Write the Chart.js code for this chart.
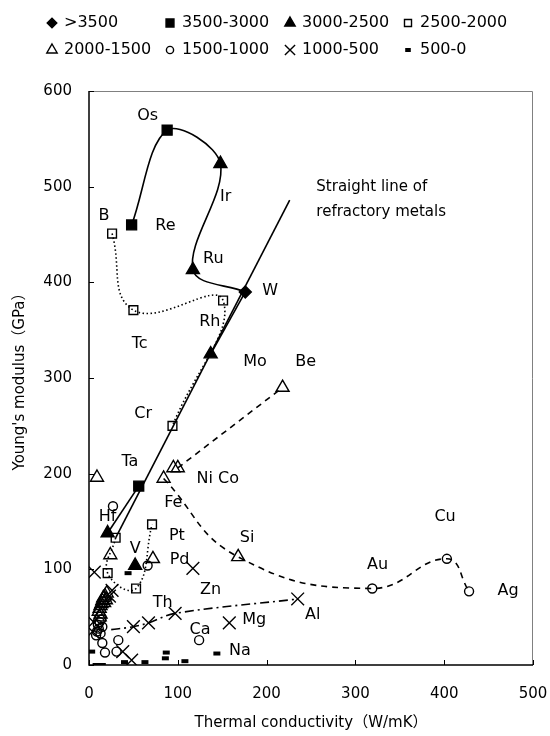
<!DOCTYPE html>
<html>
<head>
<meta charset="utf-8">
<script src="https://cdn.jsdelivr.net/npm/chart.js@4/dist/chart.umd.min.js"></script>
<style>
  body { margin: 0; background: #fff; }
</style>
</head>
<body>
<canvas id="chart" width="550" height="736"></canvas>
<script>
// melting point groups (legend)
const groupNames = ['>3500', '3500-3000', '3000-2500', '2500-2000', '2000-1500', '1500-1000', '1000-500', '500-0']

// [thermal conductivity, Young's modulus]
const over3500 = [[176, 390]]
const m3500 = [[88, 559], [48, 460], [56, 187]]
const m3000 = [[148, 524], [117, 413], [137, 325], [52, 104], [21, 138]]
const m2500 = [[26, 451], [50, 371], [151, 381], [94, 250], [71, 147], [30, 133], [21, 96], [53, 80]]
const m2000 = [[218, 290], [95, 206], [100, 206], [84, 195], [9, 196], [168, 113], [72, 111], [24, 115],
  [20, 75], [18, 72], [16, 70], [15, 67], [14, 64], [13, 62], [12, 59], [11, 56], [13, 53], [17, 65], [19, 68], [12, 50]]
const m1500 = [[27, 166], [66, 104], [319, 80], [403, 111], [428, 77], [124, 26], [33, 26], [31, 14], [15, 23], [18, 13],
  [14, 48], [12, 45], [10, 42], [15, 40], [11, 38], [9, 35], [13, 33], [8, 31]]
const m1000 = [[6, 97], [117, 101], [26, 78], [97, 54], [67, 44], [50, 40], [158, 44], [235, 69], [38, 14], [48, 5],
  [5, 45], [4, 35], [23, 72]]
const m500 = [[144, 12], [3, 14], [8, 0], [15, 0], [40, 3], [63, 3], [87, 13], [86, 7], [108, 4], [44, 96]]

// guide curves drawn through the points
const curveSolid = [[48, 460], [88, 559], [148, 524], [117, 413], [176, 390]]
const refractoryLine = [[30, 133], [226, 486]]
const lineHfTa = [[21, 138], [56, 187]]
const lineMoW = [[137, 325], [176, 390]]
const dotCurveA = [[26, 451], [50, 371], [151, 381], [94, 250]]
const dotCurveB = [[30, 133], [21, 96], [53, 80], [71, 147]]
const dashCurveA = [[100, 206], [218, 290]]
const dashCurveB = [[84, 195], [168, 113], [319, 80], [403, 111], [428, 77]]
const dashDotCurve = [[25, 37], [50, 40], [67, 44], [97, 54], [235, 69]]

// element names and where their text sits
const labelNames = ['Os', 'Re', 'B', 'Ir', 'Ru', 'W', 'Rh', 'Tc', 'Mo', 'Be', 'Cr', 'Ta', 'Ni Co', 'Fe', 'Hf', 'Pt', 'Si',
  'Cu', 'V', 'Pd', 'Au', 'Ag', 'Zn', 'Th', 'Al', 'Mg', 'Ca', 'Na']
const labelAt = [[66, 574], [86, 459], [17, 469], [154, 489], [140, 425], [204, 391], [136, 359], [57, 336], [187, 317],
  [244, 317], [61, 263], [46, 212], [145, 195], [95, 170], [21, 155], [99, 135], [178, 133], [401, 155], [52, 121],
  [102, 110], [325, 105], [472, 77], [137, 79], [83, 65], [252, 52], [186, 47], [125, 37], [170, 15]]
const noteLines = ['Straight line of', 'refractory metals']
const noteAt = [[256, 500], [256, 473]]

const FONT = "'DejaVu Sans', 'Noto Sans CJK JP', sans-serif"
const toXY = arr => arr.map(p => ({x: p[0], y: p[1]}))

const markerStyle = [
  {pointStyle: 'rectRot', radius: 6, fill: true},
  {pointStyle: 'rect', radius: 7, fill: true},
  {pointStyle: 'triangle', radius: 7.5, fill: true},
  {pointStyle: 'rect', radius: 6.2, fill: false},
  {pointStyle: 'triangle', radius: 7.5, fill: false},
  {pointStyle: 'circle', radius: 4.5, fill: false},
  {pointStyle: 'crossRot', radius: 9, fill: false},
  {pointStyle: 'line', radius: 3.5, fill: false}
]
const groupData = [over3500, m3500, m3000, m2500, m2000, m1500, m1000, m500]

const datasets = groupData.map((d, i) => ({
  label: groupNames[i],
  data: toXY(d),
  pointStyle: markerStyle[i].pointStyle,
  pointRadius: markerStyle[i].radius,
  backgroundColor: markerStyle[i].fill ? '#000' : 'rgba(0,0,0,0)',
  borderColor: '#000',
  pointBorderWidth: i === 7 ? 4 : 1.4,
  showLine: false,
  order: 1
}))

function curve(data, dash, tension) {
  return {
    label: '',
    data: toXY(data),
    showLine: true,
    pointRadius: 0,
    borderColor: '#000',
    borderWidth: 1.6,
    borderDash: dash,
    tension: tension,
    fill: false,
    order: 2
  }
}
datasets.push(curve(curveSolid, [], 0.35))
datasets.push(curve(refractoryLine, [], 0))
datasets.push(curve(lineHfTa, [], 0))
datasets.push(curve(lineMoW, [], 0))
datasets.push(curve(dotCurveA, [1.5, 2.5], 0.45))
datasets.push(curve(dotCurveB, [1.5, 2.5], 0.45))
datasets.push(curve(dashCurveA, [6, 5], 0))
datasets.push(curve(dashCurveB, [6, 5], 0.45))
datasets.push(curve(dashDotCurve, [9, 4, 2, 4], 0.35))

const decor = {
  id: 'decor',
  beforeDatasetsDraw(chart) {
    const {ctx, chartArea: a, scales: {x, y}} = chart
    ctx.save()
    ctx.strokeStyle = '#808080'
    ctx.lineWidth = 1
    ctx.beginPath()
    ctx.moveTo(a.left, a.top + 0.5)
    ctx.lineTo(a.right - 0.5, a.top + 0.5)
    ctx.lineTo(a.right - 0.5, a.bottom)
    ctx.stroke()
    ctx.strokeStyle = '#000'
    ctx.lineWidth = 1.5
    ctx.beginPath()
    ctx.moveTo(a.left, a.top)
    ctx.lineTo(a.left, a.bottom)
    ctx.lineTo(a.right, a.bottom)
    ctx.stroke()
    ctx.lineWidth = 1
    ctx.beginPath()
    x.ticks.forEach(t => {
      const px = Math.round(x.getPixelForValue(t.value)) + 0.5
      ctx.moveTo(px, a.bottom)
      ctx.lineTo(px, a.bottom - 5)
    })
    y.ticks.forEach(t => {
      const py = Math.round(y.getPixelForValue(t.value)) + 0.5
      ctx.moveTo(a.left, py)
      ctx.lineTo(a.left + 5, py)
    })
    ctx.stroke()
    ctx.restore()
  },
  afterDraw(chart) {
    const {ctx, scales: {x, y}} = chart
    ctx.save()
    ctx.fillStyle = '#000'
    ctx.font = '16px ' + FONT
    ctx.textBaseline = 'middle'
    ctx.textAlign = 'center'
    labelNames.forEach((n, i) => {
      ctx.fillText(n, x.getPixelForValue(labelAt[i][0]), y.getPixelForValue(labelAt[i][1]))
    })
    ctx.font = '15px ' + FONT
    ctx.textAlign = 'left'
    noteLines.forEach((n, i) => {
      ctx.fillText(n, x.getPixelForValue(noteAt[i][0]), y.getPixelForValue(noteAt[i][1]))
    })
    // legend in two rows of four
    ctx.font = '16px ' + FONT
    const colX = [52, 170, 290, 408]
    const rowY = [23, 50]
    groupNames.forEach((n, i) => {
      const px = colX[i % 4], py = rowY[Math.floor(i / 4)]
      const st = markerStyle[i]
      ctx.fillStyle = st.fill ? '#000' : 'rgba(0,0,0,0)'
      ctx.strokeStyle = '#000'
      ctx.lineWidth = i === 7 ? 4 : 1.4
      Chart.helpers.drawPoint(ctx, {pointStyle: st.pointStyle, radius: st.radius * 0.8, rotation: 0, borderWidth: ctx.lineWidth}, px, py)
      ctx.fillStyle = '#000'
      ctx.fillText(n, px + 12, py)
    })
    ctx.restore()
  }
}

new Chart(document.getElementById('chart'), {
  type: 'scatter',
  data: {datasets: datasets},
  options: {
    responsive: false,
    animation: false,
    devicePixelRatio: 1,
    layout: {padding: {top: 91, right: 17, left: 0, bottom: 0}},
    plugins: {legend: {display: false}, tooltip: {enabled: false}},
    scales: {
      x: {
        type: 'linear', min: 0, max: 500,
        ticks: {stepSize: 100, color: '#000', font: {family: FONT, size: 15}, padding: 20},
        grid: {display: false, drawTicks: false},
        border: {display: false},
        title: {display: true, text: 'Thermal conductivity（W/mK）', color: '#000', font: {family: FONT, size: 15}, padding: {top: 0, bottom: 4}},
        afterFit(s) { s.height = 71; s.paddingRight = 0; s.paddingLeft = 0 }
      },
      y: {
        type: 'linear', min: 0, max: 600,
        ticks: {stepSize: 100, color: '#000', font: {family: FONT, size: 15}, padding: 17},
        grid: {display: false, drawTicks: false},
        border: {display: false},
        title: {display: true, text: "Young's modulus（GPa）", color: '#000', font: {family: FONT, size: 15}, padding: {top: 11, bottom: 11}},
        afterFit(s) { s.width = 89 }
      }
    }
  },
  plugins: [decor]
})
</script>
</body>
</html>
